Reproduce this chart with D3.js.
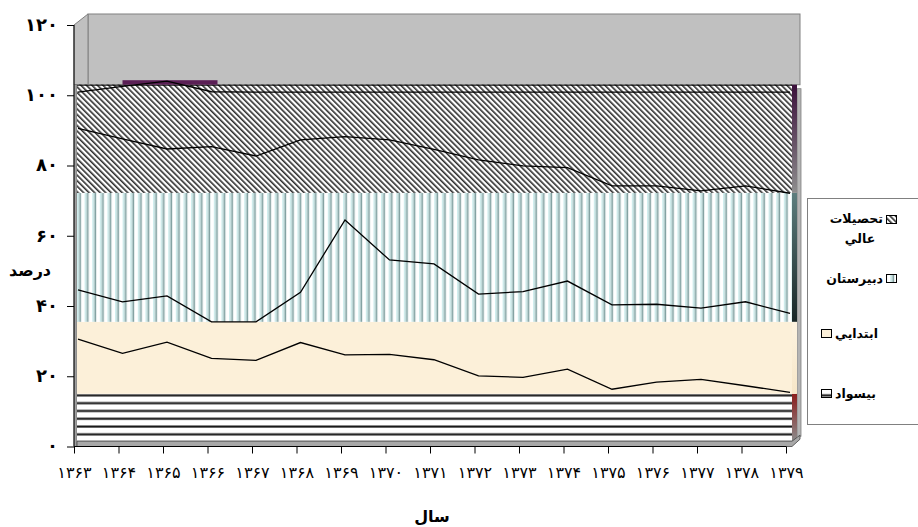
<!DOCTYPE html>
<html><head><meta charset="utf-8">
<script src="https://cdn.jsdelivr.net/npm/d3@7"></script>
<style>body{margin:0;background:#fff}svg{display:block}</style>
</head><body><svg id="c" width="918" height="527"></svg>
<script>
// ---- data (percent) ----
const years = [1363,1364,1365,1366,1367,1368,1369,1370,1371,1372,1373,1374,1375,1376,1377,1378,1379];
const seriesNames = ["بيسواد","ابتدايي","دبيرستان","تحصيلات عالي"];
const bisavad    = [30.6,26.5,29.7,25.1,24.5,29.6,26.1,26.2,24.7,20.1,19.7,22.0,16.3,18.3,19.1,17.3,15.4];
const ebtedai    = [14.0,14.7,13.2,10.4,11.0,14.3,38.4,26.9,27.3,23.3,24.4,25.1,24.0,22.2,20.3,23.9,22.5];
const dabirestan = [46.0,46.4,41.8,49.9,47.2,43.4,23.7,34.2,32.6,38.2,35.8,32.3,33.9,33.7,33.4,33.0,34.2];
const tahsilat   = [10.3,14.9,19.3,15.6,18.2,13.6,12.7,13.6,16.3,19.3,21.0,21.5,26.7,26.7,28.1,26.7,28.8];
// flat front-face bands of the 3-D area (levels in percent)
const bandBase = 1.5;
const bandTops = [15.0, 35.5, 72.2, 103.0];
const yTicks = [0,20,40,60,80,100,120];
const yTitle = "درصد";
const xTitle = "سال";

const fa = s => String(s).replace(/\d/g, d => "۰۱۲۳۴۵۶۷۸۹"[+d]);

const svg = d3.select("#c");
const defs = svg.append("defs");
const FONT = "'DejaVu Sans', sans-serif";

// scales
const y = d3.scaleLinear().domain([0,120]).range([446.5,25]);
const xTick = d3.scalePoint().domain(years).range([74,786]);
const xLine = d3.scalePoint().domain(years).range([78,790]);
const frontL = 77, frontR = 792, dx = 11, dy = 11;

// patterns
const ph = defs.append("pattern").attr("id","hatch").attr("patternUnits","userSpaceOnUse")
  .attr("width",3.9).attr("height",8).attr("patternTransform","rotate(-45)");
ph.append("rect").attr("width",3.9).attr("height",8).attr("fill","#fff");
ph.append("rect").attr("width",1.6).attr("height",8).attr("fill","#2e2e2e");

const pv = defs.append("pattern").attr("id","vstripe").attr("patternUnits","userSpaceOnUse")
  .attr("width",7.6).attr("height",10).attr("x",frontL);
pv.append("rect").attr("width",7.6).attr("height",10).attr("fill","#fff");
pv.append("rect").attr("x",0).attr("width",1.5).attr("height",10).attr("fill","#d0eeee");
pv.append("rect").attr("x",1.5).attr("width",1.1).attr("height",10).attr("fill","#abcaca");
pv.append("rect").attr("x",2.6).attr("width",1.4).attr("height",10).attr("fill","#84a2a2");

const pz = defs.append("pattern").attr("id","hstripe").attr("patternUnits","userSpaceOnUse")
  .attr("width",10).attr("height",7.8).attr("y",y(bandTops[0]));
pz.append("rect").attr("width",10).attr("height",7.8).attr("fill","#fff");
pz.append("rect").attr("y",0).attr("width",10).attr("height",1).attr("fill","#8a8a8a");
pz.append("rect").attr("y",1).attr("width",10).attr("height",1.6).attr("fill","#111");

const fills = ["url(#hstripe)","#fcf0d9","url(#vstripe)","url(#hatch)"];

function grad(id, stops){
  const g = defs.append("linearGradient").attr("id",id).attr("x1",0).attr("y1",0).attr("x2",0).attr("y2",1);
  stops.forEach(([o,c]) => g.append("stop").attr("offset",o).attr("stop-color",c));
}
grad("s0",[[0,"#8b1e1e"],[1,"#8c8c8c"]]);
grad("s1",[[0,"#fdf3e0"],[1,"#f6e6c8"]]);
grad("s2",[[0,"#5d7e7e"],[1,"#182626"]]);
grad("s3",[[0,"#3a0f3a"],[1,"#8e8e8e"]]);

// back wall
svg.append("rect").attr("x",frontL+dx).attr("y",y(120)-dy).attr("width",frontR+8-(frontL+dx))
  .attr("height",y(bandTops[3])-(y(120)-dy)).attr("fill","#c0c0c0").attr("stroke","#808080");
// left side wall (top part)
svg.append("path").attr("d",`M74,${y(120)} L${74+14},${y(120)-dy} L${74+14},${y(bandTops[3])} L74,${y(bandTops[3])}Z`)
  .attr("fill","#c0c0c0").attr("stroke","#808080");
// left wall strip
svg.append("rect").attr("x",74).attr("y",y(bandTops[3])).attr("width",frontL-74).attr("height",y(0)-y(bandTops[3]))
  .attr("fill","#a0a0a0").attr("stroke","#666").attr("stroke-width",0.6);
// right back strip
svg.append("rect").attr("x",797).attr("y",y(bandTops[3])+4).attr("width",4).attr("height",y(bandBase)-y(bandTops[3])-9)
  .attr("fill","#b4b4b4").attr("stroke","#808080").attr("stroke-width",0.8);

// bands
const bandData = bandTops.map((t,i) => ({lo: i ? bandTops[i-1] : bandBase, hi: t, i}));
svg.append("g").selectAll("rect").data(bandData).join("rect")
  .attr("x",frontL).attr("width",frontR-frontL)
  .attr("y",d => y(d.hi)).attr("height",d => y(d.lo)-y(d.hi))
  .attr("fill",d => fills[d.i]);
// right side of bands
svg.append("g").selectAll("rect").data(bandData).join("rect")
  .attr("x",frontR).attr("width",5)
  .attr("y",d => y(d.hi)).attr("height",d => y(d.lo)-y(d.hi))
  .attr("fill",d => `url(#s${d.i})`);
// floor edge
svg.append("path").attr("d",`M${frontL},${y(bandBase)} L${frontR},${y(bandBase)} L${frontR+8},${y(bandBase)-6} L${frontR+8},${y(bandBase)-2} L${frontR},${y(0)} L${frontL},${y(0)}Z`)
  .attr("fill","#a8a8a8").attr("stroke","#444").attr("stroke-width",0.8);

// top edge of hatched band
svg.append("line").attr("x1",frontL).attr("x2",frontR).attr("y1",y(bandTops[3])+0.5).attr("y2",y(bandTops[3])+0.5)
  .attr("stroke","#000").attr("stroke-width",1);

// stacked lines
const table = years.map((yr,i) => ({yr, a:bisavad[i], b:ebtedai[i], c:dabirestan[i], d:tahsilat[i]}));
const stack = d3.stack().keys(["a","b","c","d"])(table);
// purple 3-D top where the total rises above the front face
const over = table.map((r,i) => ({yr:r.yr, v: stack[3][i][1]})).filter(p => p.v > bandTops[3]);
if (over.length) {
  const i0 = years.indexOf(over[0].yr) - 1, i1 = years.indexOf(over[over.length-1].yr) + 1;
  svg.append("rect").attr("x",xLine(years[i0])).attr("width",xLine(years[i1])-xLine(years[i0])+6)
    .attr("y",y(d3.max(over,p=>p.v))-1).attr("height",y(bandTops[3])-y(d3.max(over,p=>p.v))+1)
    .attr("fill","#5a1f55");
}
const line = d3.line().x((d,i) => xLine(years[i])).y(d => y(d[1]));
svg.append("g").selectAll("path").data(stack).join("path")
  .attr("d",line).attr("fill","none").attr("stroke","#000").attr("stroke-width",1.3);

// axes
const ya = svg.append("g").attr("transform","translate(74,0)")
  .call(d3.axisLeft(y).tickValues(yTicks).tickSize(7).tickFormat(fa));
ya.select(".domain").attr("stroke","#000").attr("d",`M0,${y(120)}V${y(0)}`);
ya.selectAll("text").attr("font-family",FONT).attr("font-weight","bold").attr("font-size",18).attr("fill","#000").attr("x",-16).attr("dy","0.3em");
const xa = svg.append("g").attr("transform",`translate(0,${y(0)})`)
  .call(d3.axisBottom(xTick).tickSize(7).tickFormat(fa));
xa.select(".domain").attr("stroke","#000").attr("d","M74,0H786");
xa.selectAll("text").attr("font-family",FONT).attr("font-size",16).attr("fill","#000").attr("y",20);

svg.append("text").attr("x",30).attr("y",276).attr("text-anchor","middle").attr("font-family",FONT)
  .attr("font-weight","bold").attr("font-size",16).text(yTitle);
svg.append("text").attr("x",432).attr("y",522).attr("text-anchor","middle").attr("font-family",FONT)
  .attr("font-weight","bold").attr("font-size",16).text(xTitle);

// legend
const lg = svg.append("g");
lg.append("rect").attr("x",807.5).attr("y",198.5).attr("width",130).attr("height",226).attr("fill","#fff").attr("stroke","#808080");
const legendItems = [
  {name: seriesNames[3], fill: fills[3], sx: 886, sy: 215, side: "right", ty: 223},
  {name: seriesNames[2], fill: fills[2], sx: 886, sy: 274, side: "right", ty: 283},
  {name: seriesNames[1], fill: fills[1], sx: 821, sy: 329, side: "left",  ty: 338},
  {name: seriesNames[0], fill: fills[0], sx: 821, sy: 389, side: "left",  ty: 398}
];
const LFS = 12.5;
legendItems.forEach(it => {
  lg.append("rect").attr("x",it.sx+0.5).attr("y",it.sy+0.5).attr("width",10).attr("height",8)
    .attr("fill",it.fill).attr("stroke","#000");
  const words = it.name.split(" ");
  if (it.side === "right") {
    lg.append("text").attr("font-family",FONT).attr("font-weight","bold").attr("font-size",LFS)
      .attr("x",it.sx-3).attr("y",it.ty).attr("text-anchor","end").text(words[0]);
    if (words[1]) lg.append("text").attr("font-family",FONT).attr("font-weight","bold").attr("font-size",LFS)
      .attr("x",860).attr("y",it.ty+20).attr("text-anchor","middle").text(words[1]);
  } else {
    lg.append("text").attr("font-family",FONT).attr("font-weight","bold").attr("font-size",LFS)
      .attr("x",it.sx+14).attr("y",it.ty).attr("text-anchor","start").text(it.name);
  }
});
</script></body></html>
